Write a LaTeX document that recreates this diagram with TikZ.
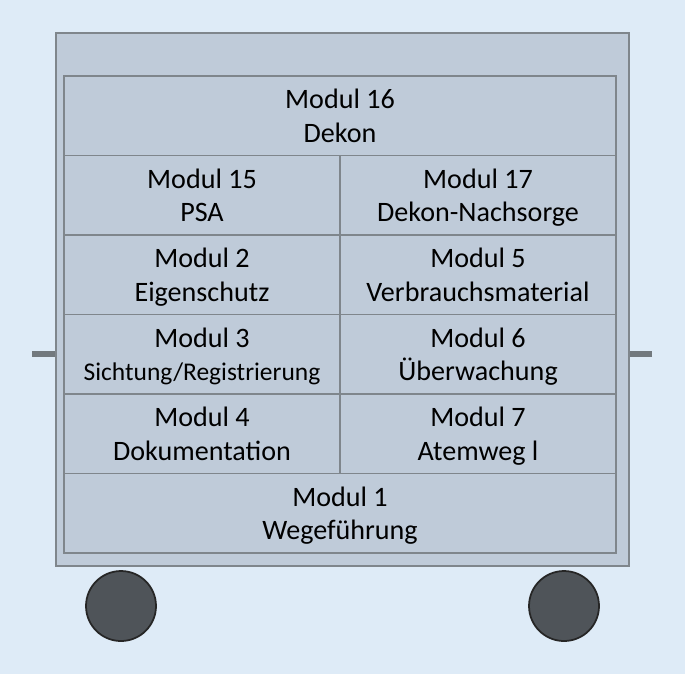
\documentclass[tikz,border=0pt]{standalone}
\usepackage{fontspec}
\setmainfont{Carlito}
\usetikzlibrary{positioning}

\definecolor{bgblue}{HTML}{DEEBF7}
\definecolor{cartfill}{HTML}{BFCBD9}
\definecolor{cartline}{HTML}{7F868C}
\definecolor{wheelfill}{HTML}{4F5459}

% line strut, same for every module text
\newcommand\mstrut{\rule[-3pt]{0pt}{17pt}}

\begin{document}
\begin{tikzpicture}[x=0.02cm, y=-0.02cm,
    cart/.style={draw=cartline, fill=cartfill, line width=1.1pt, inner sep=0pt},
    modul/.style={draw=cartline, fill=cartfill, line width=1.1pt, inner sep=0pt,
                  align=center, minimum height=1.59cm,
                  font=\fontsize{16}{19}\selectfont},
    full/.style={modul, minimum width=11.04cm},
    half/.style={modul, minimum width=5.52cm},
    wheel/.style={circle, draw=black!85, fill=wheelfill, line width=1pt, minimum size=1.4cm},
    handle/.style={draw=cartline!90!black, line width=3.4pt}]

    \fill[bgblue] (0,0) rectangle (685,674);
    \useasboundingbox (0,0) rectangle (685,674);

    \node [cart, minimum width=11.46cm, minimum height=10.66cm] (cart) at (342.5,299.5) {};

    \node [full] (m16) at (340,115.75) {Modul 16\mstrut\\Dekon\mstrut};
    \node [half] (m15) at (202,195.25) {Modul 15\mstrut\\PSA\mstrut};
    \node [half] (m17) at (478,195.25) {Modul 17\mstrut\\Dekon-Nachsorge\mstrut};
    \node [half] (m2) at (202,274.75) {Modul 2\mstrut\\Eigenschutz\mstrut};
    \node [half] (m5) at (478,274.75) {Modul 5\mstrut\\Verbrauchsmaterial\mstrut};
    \node [half] (m3) at (202,354.25) {Modul 3\mstrut\\{\fontsize{14.5}{19}\selectfont Sichtung/Registrierung}\mstrut};
    \node [half] (m6) at (478,354.25) {Modul 6\mstrut\\Überwachung\mstrut};
    \node [half] (m4) at (202,433.75) {Modul 4\mstrut\\Dokumentation\mstrut};
    \node [half] (m7) at (478,433.75) {Modul 7\mstrut\\Atemweg l\mstrut};
    \node [full] (m1) at (340,513.25) {Modul 1\mstrut\\Wegeführung\mstrut};

    \coordinate (hl) at (32,354);
    \coordinate (hr) at (652,354);
    \draw [handle] (hl) -- (hl -| cart.west);
    \draw [handle] (hr) -- (hr -| cart.east);

    \node [wheel] (wl) at (121,606) {};
    \node [wheel] (wr) at (564,606) {};
\end{tikzpicture}
\end{document}
